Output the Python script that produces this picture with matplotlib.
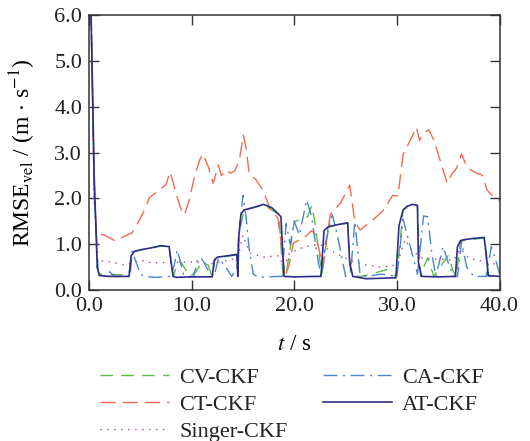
import numpy as np
import matplotlib.pyplot as plt

plt.rcParams['font.family'] = ['Liberation Serif', 'DejaVu Serif']
plt.rcParams['mathtext.fontset'] = 'stix'
plt.rcParams['text.color'] = '#222222'
plt.rcParams['xtick.labelcolor'] = '#222222'
plt.rcParams['ytick.labelcolor'] = '#222222'

# velocity RMSE of each filter, (time [s], value [m/s]) pairs
t_at = [0.2, 0.5, 0.8, 1.0, 2.0, 3.0, 3.9, 4.1, 4.4, 5.0, 6.0, 7.0, 7.8, 8.0, 8.2, 8.5,
        10.0, 12.0, 12.2, 12.5, 13.5, 14.4, 14.5, 14.6, 14.8, 15.1, 16.0, 17.0, 17.8,
        18.5, 18.7, 19.0, 20.0, 22.0, 22.6, 22.9, 23.3, 24.0, 25.2, 25.4, 25.7, 27.0,
        29.9, 30.2, 30.6, 31.0, 31.5, 32.0, 32.1, 32.4, 34.0, 35.7, 35.9, 36.2, 36.5,
        37.5, 38.5, 38.7, 38.9, 40.0]
v_at = [6.0, 2.5, 0.5, 0.32, 0.3, 0.3, 0.3, 0.75, 0.84, 0.88, 0.92, 0.97, 0.95, 0.6, 0.3, 0.28,
        0.29, 0.29, 0.65, 0.72, 0.75, 0.78, 0.3, 1.2, 1.65, 1.75, 1.8, 1.87, 1.8,
        1.65, 1.6, 0.3, 0.29, 0.3, 0.3, 1.3, 1.38, 1.42, 1.47, 0.6, 0.3, 0.25,
        0.27, 1.4, 1.75, 1.83, 1.87, 1.85, 0.6, 0.3, 0.29, 0.3, 0.95, 1.08, 1.1,
        1.13, 1.15, 0.8, 0.32, 0.3]

t_ct = [0.2, 0.5, 0.75, 1.5, 2.5, 3.5, 4.2, 4.6, 5.3, 5.9, 6.9, 7.5, 7.9, 8.5, 8.9, 9.3,
        9.8, 10.3, 10.8, 11.1, 11.6, 12.1, 12.6, 12.9, 13.3, 13.8, 14.2, 14.65, 15.04,
        15.3, 15.6, 16.3, 17.0, 17.6, 18.4, 18.8, 19.1, 19.5, 19.9, 20.5, 21.0, 21.7,
        22.1, 22.8, 23.5, 24.5, 25.4, 25.9, 26.4, 27.2, 28.0, 28.7, 29.6, 30.1, 30.6,
        31.3, 31.9, 32.2, 32.6, 33.1, 33.6, 34.2, 34.9, 35.4, 35.8, 36.3, 36.7, 37.2,
        37.8, 38.3, 38.8, 39.4, 40.0]
v_ct = [6.0, 2.0, 1.25, 1.2, 1.08, 1.18, 1.25, 1.4, 1.7, 2.02, 2.2, 2.3, 2.58, 2.1, 1.8, 1.64,
        2.0, 2.5, 2.85, 2.97, 2.7, 2.33, 2.73, 2.5, 2.62, 2.55, 2.6, 2.84, 3.38,
        3.1, 2.55, 2.4, 2.15, 1.8, 1.57, 0.9, 0.29, 0.55, 1.02, 1.1, 1.15, 1.3,
        1.2, 0.5, 1.65, 1.9, 2.29, 1.5, 1.31, 1.45, 1.6, 1.75, 2.07, 2.05, 2.95,
        3.27, 3.55, 3.27, 3.42, 3.5, 3.27, 2.84, 2.33, 2.55, 2.65, 2.97, 2.75, 2.62,
        2.55, 2.51, 2.18, 2.04, 1.96]

t_cv = [0.2, 0.5, 0.8, 1.0, 3.9, 4.1, 4.4, 7.0, 7.8, 8.2, 8.7, 9.0, 9.4, 9.8, 10.4, 11.0,
        11.6, 12.0, 12.3, 14.4, 14.6, 15.1, 17.0, 18.5, 18.9, 19.2, 19.6, 20.0, 20.8,
        21.3, 21.7, 22.0, 22.4, 22.7, 23.3, 25.2, 25.5, 26.5, 27.5, 29.0, 29.5, 30.0,
        30.6, 31.5, 32.0, 32.3, 32.6, 33.0, 33.6, 34.5, 35.0, 35.5, 35.8, 36.2, 38.5,
        38.9, 40.0]
v_cv = [6.0, 2.4, 0.5, 0.35, 0.33, 0.75, 0.85, 0.96, 0.95, 0.3, 0.62, 0.6, 0.45, 0.3, 0.4, 0.6,
        0.55, 0.3, 0.7, 0.77, 1.2, 1.75, 1.86, 1.65, 0.3, 0.35, 0.9, 1.5, 1.55,
        1.6, 1.85, 1.5, 0.8, 0.35, 1.38, 1.46, 0.3, 0.3, 0.35, 0.45, 0.35, 0.3,
        1.75, 1.86, 1.84, 0.3, 0.5, 0.7, 0.3, 0.6, 0.75, 0.4, 0.3, 1.07, 1.14,
        0.3, 0.3]

t_ca = [0.2, 0.5, 0.9, 1.5, 2.0, 2.5, 4.0, 4.2, 4.6, 5.0, 5.4, 6.5, 8.0, 8.3, 8.6, 9.2,
        9.6, 10.2, 10.6, 11.0, 11.8, 12.2, 12.6, 13.2, 13.9, 14.4, 14.7, 15.0, 15.3,
        15.6, 16.0, 16.5, 18.5, 18.8, 19.2, 19.6, 20.0, 20.5, 21.2, 21.7, 22.2, 22.6,
        23.0, 23.7, 24.2, 25.0, 25.5, 25.9, 26.4, 27.0, 28.5, 30.0, 30.6, 31.0, 31.6,
        32.0, 32.6, 33.0, 33.4, 33.8, 34.5, 35.0, 35.5, 35.9, 36.3, 36.8, 37.5, 38.7,
        39.2, 39.7, 40.0]
v_ca = [6.0, 2.2, 0.4, 0.3, 0.4, 0.3, 0.3, 0.85, 0.6, 0.35, 0.3, 0.28, 0.3, 0.55, 0.88, 0.35,
        0.3, 0.3, 0.7, 0.68, 0.35, 0.3, 0.7, 0.55, 0.3, 0.5, 1.4, 2.07, 1.6,
        0.9, 0.35, 0.28, 0.3, 0.3, 1.45, 1.0, 1.5, 1.2, 1.97, 1.6, 0.8, 0.3,
        1.0, 1.65, 1.2, 0.3, 0.4, 1.5, 0.35, 0.3, 0.35, 0.3, 1.55, 1.2, 0.7,
        0.35, 1.62, 1.6, 0.8, 0.3, 0.95, 0.6, 0.3, 0.3, 1.06, 0.5, 0.3, 0.3,
        0.95, 0.6, 0.35]

t_sg = [0.2, 0.5, 0.8, 2.0, 3.5, 5.0, 6.0, 8.0, 10.0, 12.0, 13.5, 14.5, 15.0, 15.3, 15.8,
        17.0, 18.5, 19.0, 19.5, 21.0, 22.5, 23.2, 24.5, 25.5, 27.0, 28.5, 30.0, 30.8,
        31.5, 32.5, 34.0, 35.5, 36.2, 37.0, 38.5, 40.0]
v_sg = [6.0, 2.0, 0.65, 0.62, 0.55, 0.65, 0.6, 0.6, 0.62, 0.58, 0.65, 0.7, 1.2, 1.0, 0.8,
        0.72, 0.75, 0.5, 0.8, 0.95, 1.0, 0.9, 0.75, 0.65, 0.55, 0.5, 0.55, 1.1,
        0.85, 0.7, 0.68, 0.65, 0.9, 0.7, 0.62, 0.55]

fig = plt.figure(figsize=(5.3, 4.41), dpi=100)
ax = fig.add_axes([0.168, 0.342, 0.7745, 0.624])

ax.plot(t_cv, v_cv, color='#5dbb45', lw=1.0, ls=(0, (9, 6)), label='CV-CKF')
ax.plot(t_ct, v_ct, color='#f26b50', lw=1.0, ls=(0, (11, 5)), label='CT-CKF')
ax.plot(t_sg, v_sg, color='#a4459e', lw=1.0, ls=(0, (1, 4)), label='Singer-CKF')
ax.plot(t_ca, v_ca, color='#4a86d0', lw=1.0, ls=(0, (10, 4, 1.5, 4)), label='CA-CKF')
ax.plot(t_at, v_at, color='#2e2d88', lw=1.2, ls='-', label='AT-CKF')

ax.set_xlim(0, 40)
ax.set_ylim(0, 6)
ax.set_xticks([0, 10, 20, 30, 40], ['0.0', '10.0', '20.0', '30.0', '40.0'])
ax.set_yticks([0, 1, 2, 3, 4, 5, 6], ['0.0', '1.0', '2.0', '3.0', '4.0', '5.0', '6.0'])
ax.tick_params(direction='in', top=True, right=True, length=7, width=1.0,
               color='#333333', labelsize=16, pad=5)
for s in ax.spines.values():
    s.set_color('#333333')
    s.set_linewidth(1.1)

ax.set_xlabel(r'$t$ / s', fontsize=16.5, labelpad=13)
ax.set_ylabel(r'RMSE$_{\rm vel}$ / (m $\cdot$ s$^{-1}$)', fontsize=17, labelpad=12)

leg = ax.legend(loc='upper left', bbox_to_anchor=(0.027, -0.28), ncol=2,
                frameon=False, fontsize=16, handlelength=3.1, handletextpad=0.45,
                columnspacing=1.6, labelspacing=0.3, borderaxespad=0, borderpad=0)

fig.savefig('out.png', dpi=100)
